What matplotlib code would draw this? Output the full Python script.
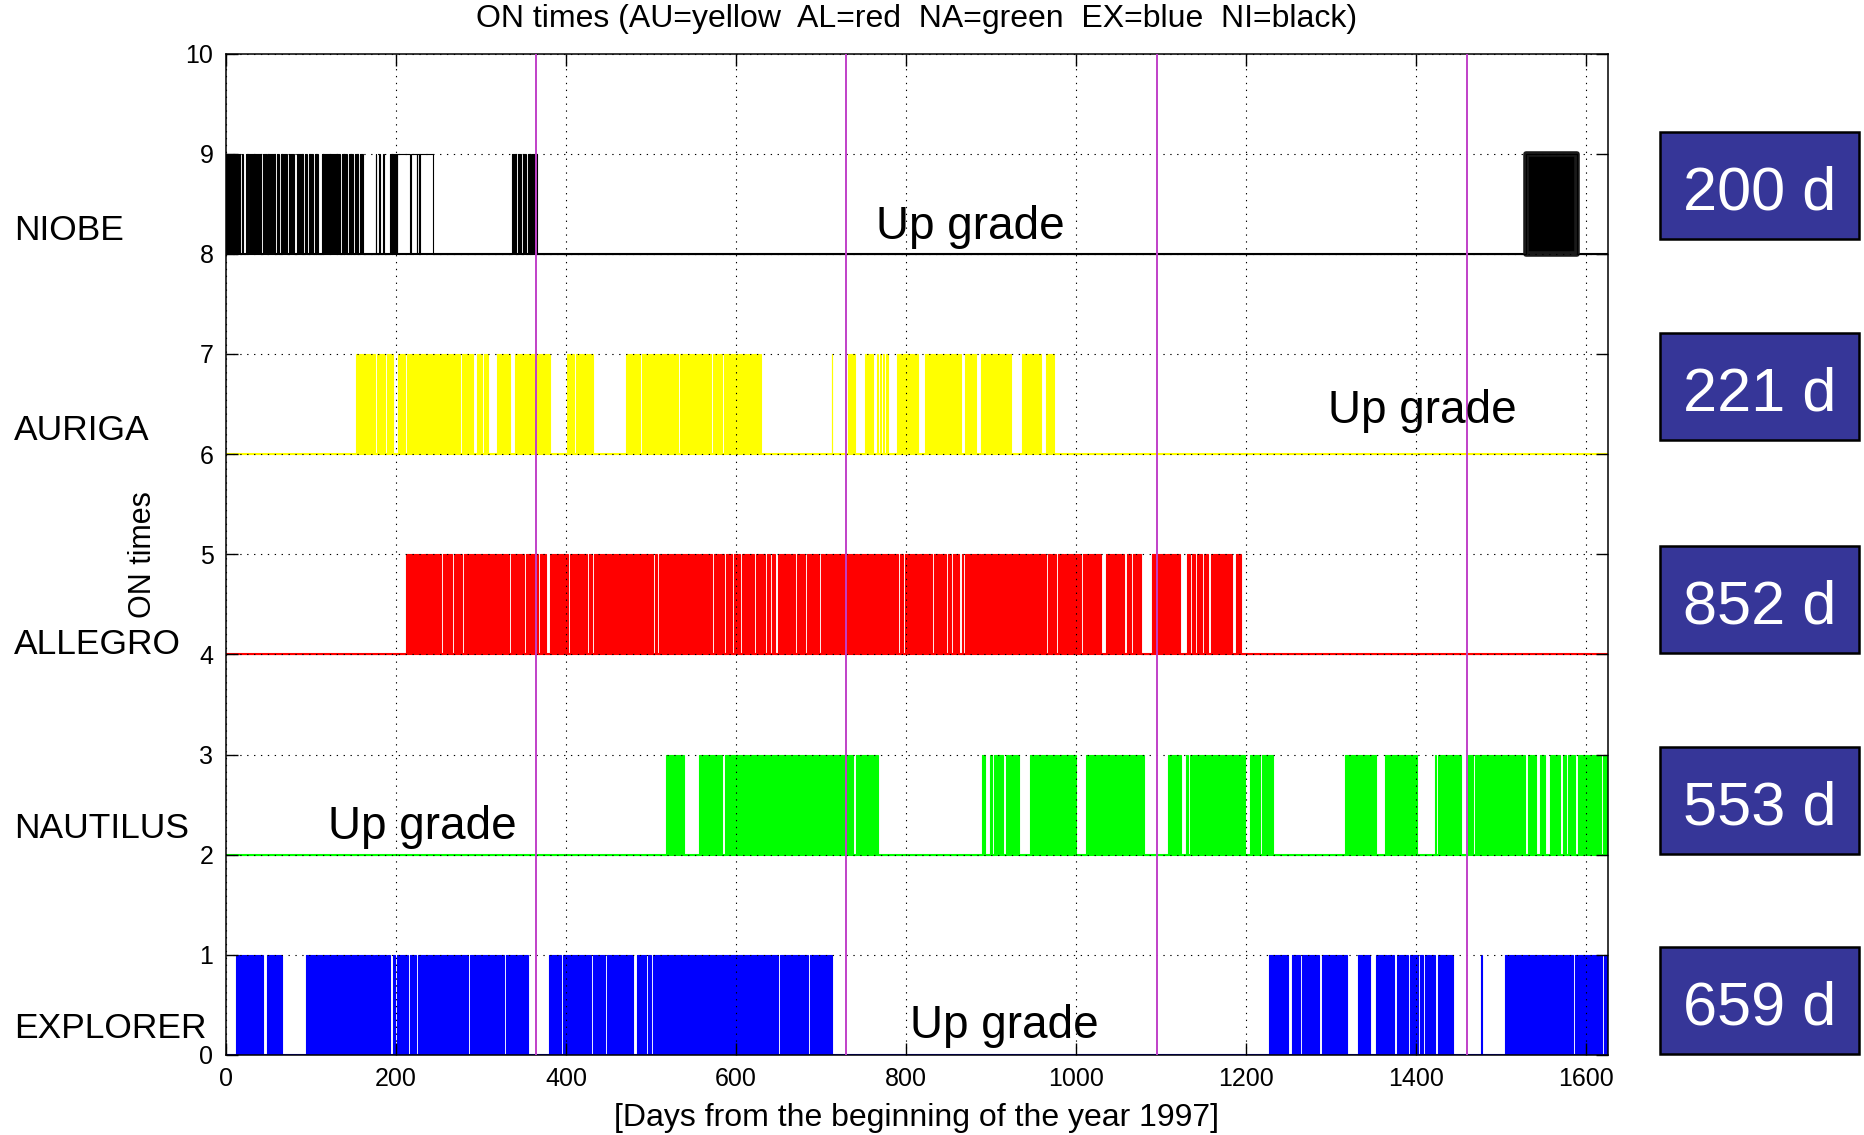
import matplotlib
matplotlib.use("Agg")
import matplotlib.pyplot as plt
from matplotlib.patches import Rectangle

plt.rcParams['font.family'] = ['Liberation Sans', 'DejaVu Sans']

# ---------------------------------------------------------------- data
DAY_MAX = 1626
year_marks = [365, 730, 1095, 1460]
x_ticks = [0, 200, 400, 600, 800, 1000, 1200, 1400, 1600]
y_ticks = list(range(0, 11))

detectors = ["NIOBE", "AURIGA", "ALLEGRO", "NAUTILUS", "EXPLORER"]
bases = [8, 6, 4, 2, 0]
colors = ["#000000", "#ffff00", "#ff0000", "#00ff00", "#0000ff"]
totals = ["200 d", "221 d", "852 d", "553 d", "659 d"]

# densely switching ON stretches (start, end) in days, and short OFF gaps inside them
niobe_spans = [(0, 108.6), (112.5, 161.6), (193, 200.8), (336, 365.5), (1529, 1589)]
niobe_gaps = [(11.4, 13.3), (16.5, 18.8), (20.4, 23.1), (41.2, 43.9), (47.8, 49.8),
              (57.6, 59.6), (62.7, 64.7), (72.2, 74.5), (80.4, 83.1), (91, 93),
              (95.7, 98), (102.7, 104.7), (134, 136), (142, 144.7), (149.8, 151.8),
              (155.7, 157.6), (341.5, 343), (347, 349), (353.5, 355.5), (359, 360.5)]
# uninterrupted ON runs
niobe_runs = [(176, 177), (180, 181), (185, 186), (200.8, 216.5), (217.5, 224.3),
              (225.2, 227), (228, 243.9)]

auriga_spans = [(153, 196.8), (202.7, 290.9), (294.8, 300.7), (303.5, 308.5),
                (318.4, 334), (340, 381), (400.7, 432), (471.2, 630), (712.5, 713.5),
                (732, 740), (751.7, 760.7), (766, 767.5), (769.5, 771), (773, 774.5),
                (776.5, 779), (790, 814.4), (822, 865.3), (869.2, 883), (888.8, 924),
                (936, 959.4), (965.3, 974)]
auriga_gaps = [(155.7, 156.9), (175.3, 177.2), (187, 189), (210.6, 213.3), (275.2, 277.2),
               (353, 354.5), (357.2, 358.5), (372.7, 374), (410, 411.5), (420, 421.5),
               (426, 427.5), (487, 489), (522, 524), (532, 534), (553.7, 555.6),
               (571, 573), (583, 586), (596.5, 598), (612.5, 614.5), (618.4, 619.5),
               (808.5, 809.8), (837.5, 839), (894.2, 895.5)]
auriga_runs = []

allegro_spans = [(211.7, 1194.4)]
allegro_gaps = [(227, 228.2), (230.1, 231.3), (252.5, 255.6), (266, 268), (278, 280),
                (333.2, 335.2), (350.8, 352.4), (367.3, 370), (377, 381), (402.6, 404.5),
                (425, 427), (431.2, 433.2), (452.8, 454.7), (497.8, 499.4), (502.5, 504.5),
                (507.2, 509.6), (517.4, 519.4), (551.5, 553.5), (556.6, 558.2), (572, 574.5),
                (580.2, 581.7), (586.5, 588), (595.6, 597.3), (605, 607.2), (621.7, 623),
                (634, 636.2), (640.3, 642.4), (646.5, 649.4), (663, 665), (669.3, 671.3),
                (681.7, 683.7), (698.2, 700.3), (703.2, 705.2), (743.7, 745), (791.2, 793.3),
                (796.6, 798.3), (814, 815.6), (830.5, 832.6), (839.6, 841.3), (847, 849.1),
                (853.3, 855.3), (862.8, 865.7), (867.7, 869), (888.4, 889.6), (920.2, 921.5),
                (924.8, 926.4), (944.2, 945.5), (964.9, 967), (971, 972.4), (976.5, 978.5),
                (985.6, 987.6), (1006.3, 1008.3), (1012.5, 1014.1), (1029, 1035.2),
                (1057.1, 1060), (1064.2, 1067), (1070.4, 1072.4), (1076.5, 1089),
                (1105.5, 1107.6), (1122, 1130.3), (1134.4, 1136.5), (1140.6, 1142.7),
                (1148.9, 1151), (1155, 1159.3), (1184, 1188.2)]
allegro_runs = []

nautilus_spans = [(517.6, 539.2), (556.4, 583.9), (587, 767.3), (890, 892.7), (898.6, 901.7),
                  (903.3, 914.3), (918, 921.3), (923, 933), (945.6, 1000.5), (1012.3, 1080),
                  (1108.6, 1123.5), (1130, 1132), (1134, 1137), (1138, 1198.7),
                  (1204.6, 1216.4), (1219, 1232), (1316.3, 1352.8), (1363.4, 1401.4),
                  (1422, 1424), (1426, 1453.5), (1461.4, 1467.3), (1470, 1625)]
nautilus_gaps = [(738, 741), (1022, 1024), (1528, 1532), (1536, 1538), (1541.7, 1545.6),
                 (1551.5, 1557.4), (1569, 1573), (1577, 1579), (1586.8, 1590.7),
                 (1604.4, 1606.4), (1610.3, 1612.3), (1618, 1620)]
nautilus_runs = []

explorer_spans = [(11.4, 43.1), (47.8, 65.5), (93.7, 355.5), (379.8, 713),
                  (1227.4, 1319), (1332, 1443.8), (1504.6, 1625)]
explorer_gaps = [(174, 175.6), (189, 191), (193, 196), (198.7, 200.7), (214.4, 216.4),
                 (224, 226.2), (285, 287), (327, 329.3), (343, 345), (394.7, 396.7),
                 (429, 432), (445.7, 447.7), (479, 484), (494, 496), (500.6, 502.6),
                 (600, 601.5), (650, 652), (685, 687), (1249.8, 1253.7), (1263.5, 1265.5),
                 (1285.8, 1290), (1345.8, 1352.9), (1365.4, 1367.4), (1371.3, 1373.3),
                 (1374.5, 1377.2), (1391, 1393), (1402.7, 1404.6), (1408.5, 1410.5),
                 (1416.4, 1418.3), (1422, 1426.2), (1585, 1587), (1619.4, 1621.4)]
explorer_runs = [(1477, 1477.8)]

spans = [niobe_spans, auriga_spans, allegro_spans, nautilus_spans, explorer_spans]
gaps = [niobe_gaps, auriga_gaps, allegro_gaps, nautilus_gaps, explorer_gaps]
runs = [niobe_runs, auriga_runs, allegro_runs, nautilus_runs, explorer_runs]

upgrade_pos = [(765, 8.15), (1296, 6.31), (120, 2.16), (805, 0.17)]


# ---------------------------------------------------------------- helpers
def split_spans(span_list, gap_list):
    out = []
    for a, b in span_list:
        cur = a
        for g0, g1 in sorted(g for g in gap_list if g[0] >= a and g[1] <= b):
            out.append((cur, g0))
            cur = g1
        out.append((cur, b))
    return out


def step_signal(intervals, base, xmax):
    xs, ys = [0], [base]
    for a, b in sorted(intervals):
        xs += [a, a, b, b]
        ys += [base, base + 1, base + 1, base]
    xs.append(xmax)
    ys.append(base)
    return xs, ys


# ---------------------------------------------------------------- figure
W, H = 1865, 1135
fig = plt.figure(figsize=(W / 100, H / 100), dpi=100)
ax = fig.add_axes([226 / W, 1 - 1055 / H, (1608 - 226) / W, (1055 - 53.5) / H])

for name, base, col, sp, gp, rn in zip(detectors, bases, colors, spans, gaps, runs):
    dense = split_spans(sp, gp)
    # OFF level, visible wherever the detector is not running
    ax.plot([0, DAY_MAX], [base, base], color=col, lw=1.5, zorder=1.1)
    ax.broken_barh([(a, b - a) for a, b in dense], (base, 1), facecolors=col,
                   edgecolors='none', linewidth=0, zorder=1.2)
    xs, ys = step_signal(dense + rn, base, DAY_MAX)
    ax.plot(xs, ys, color=col, lw=0.8, zorder=1.4, solid_joinstyle='miter')

# the long NIOBE run after the upgrade is drawn with a heavy outline
ax.broken_barh([(niobe_spans[-1][0], niobe_spans[-1][1] - niobe_spans[-1][0])], (8, 1),
               facecolors='black', edgecolors='#1a1a1a', linewidth=4, zorder=1.3)

for xm in year_marks:
    ax.plot([xm, xm], [0, 10], color="#c040c8", lw=1.4, zorder=3)

ax.set_xlim(0, DAY_MAX)
ax.set_ylim(0, 10)
ax.set_xticks(x_ticks)
ax.set_yticks(y_ticks)
ax.set_axisbelow(False)
ax.grid(True, color="black", linestyle=(0, (1.2, 5)), linewidth=0.8)
ax.tick_params(direction='in', length=8.5, width=1, top=True, right=True,
               labelsize=18, pad=9)
for s in ax.spines.values():
    s.set_linewidth(1.1)

ax.set_ylabel("ON times", fontsize=22)
ax.yaxis.set_label_coords(-0.049, 0.5)

fig.text(917 / W, 1 - 19 / H, "ON times (AU=yellow  AL=red  NA=green  EX=blue  NI=black)",
         ha='center', va='center', fontsize=23)
fig.text(917 / W, 1 - 1118 / H, "[Days from the beginning of the year 1997]",
         ha='center', va='center', fontsize=23)

label_baselines = [240.3, 440, 654.2, 838.5, 1038.3]
for name, yb in zip(detectors, label_baselines):
    fig.text(14 / W, 1 - yb / H, name, ha='left', va='baseline', fontsize=25.5)

for (xu, yu) in upgrade_pos:
    ax.text(xu, yu, "Up grade", ha='left', va='baseline', fontsize=33, zorder=4)

box_tops = [132, 333, 546, 747, 947]
box_h = 107
for top, txt in zip(box_tops, totals):
    fig.add_artist(Rectangle((1660 / W, 1 - (top + box_h) / H), 199 / W, box_h / H,
                             transform=fig.transFigure, facecolor="#363698",
                             edgecolor="black", linewidth=1.8))
    fig.text(1760 / W, 1 - (top + 0.72 * box_h) / H, txt, ha='center', va='baseline',
             color='white', fontsize=44)

fig.savefig("out.png", dpi=100)
